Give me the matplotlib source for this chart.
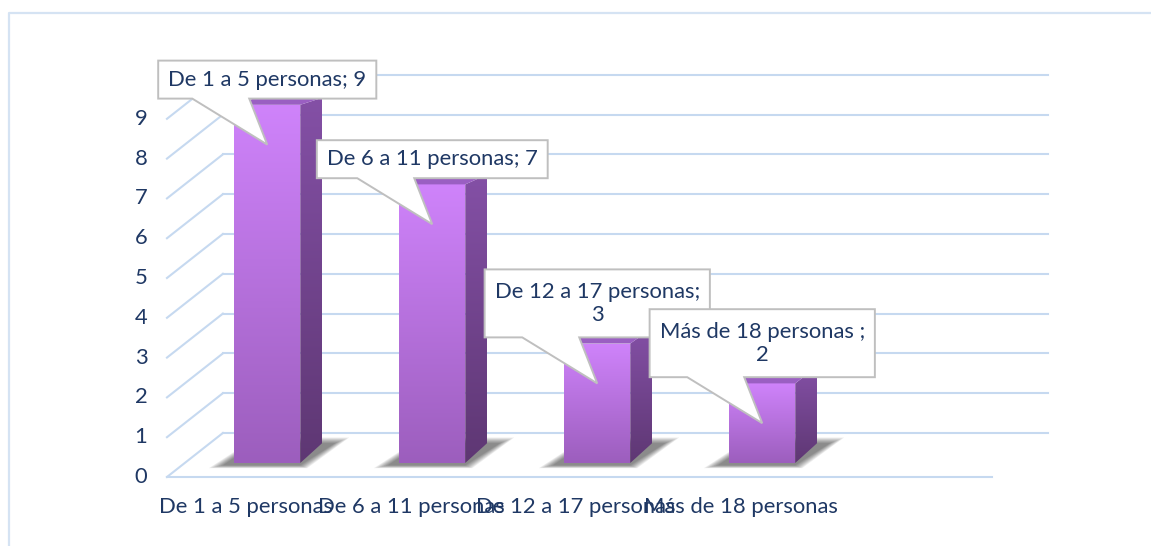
import numpy as np
import matplotlib
matplotlib.use("Agg")
import matplotlib.pyplot as plt
from matplotlib.patches import Polygon
from matplotlib.lines import Line2D
from matplotlib.transforms import IdentityTransform
from matplotlib.colors import LinearSegmentedColormap

plt.rcParams['font.family'] = ['Lato', 'DejaVu Sans']

# datos
categorias = ['De 1 a 5 personas', 'De 6 a 11 personas', 'De 12 a 17 personas', 'Más de 18 personas', '']
valores = [9, 7, 3, 2]
etiquetas = ['De 1 a 5 personas; 9', 'De 6 a 11 personas; 7',
             'De 12 a 17 personas;\n3', 'Más de 18 personas ;\n2']
ticks_y = list(range(0, 10))

TXT = '#1F3864'
GRID = '#C6D9F0'
FS = 15.8

fig = plt.figure(figsize=(11.51, 5.46), dpi=100)
ax = fig.add_axes([0, 0, 1, 1])
ax.set_xlim(-1.512, 5.464)
ax.set_ylim(-1.734, 11.985)
ax.axis('off')

# marco exterior
fig.add_artist(Line2D([0.0078, 0.0078, 1.0], [0.0, 0.976, 0.976],
                      transform=fig.transFigure, color='#D5E3F3', lw=1.6))

# profundidad de la pared (en unidades de datos)
DX, DY = 0.339, 1.106
x0 = -0.5
x1 = len(categorias) - 0.5

for v in ticks_y:
    ax.plot([x0, x0 + DX], [v, v + DY], color=GRID, lw=1.5, zorder=1)
    ax.plot([x0 + DX, x1 + DX], [v + DY, v + DY], color=GRID, lw=1.5, zorder=1)
    ax.text(-0.657, v, str(v), ha='center', va='center', fontsize=FS, color=TXT)
ax.plot([x0, x1], [0, 0], color=GRID, lw=1.5, zorder=1)

for i, c in enumerate(categorias):
    ax.text(i - 0.02, -0.76, c, ha='center', va='center', fontsize=FS, color=TXT)

# barras 3D
F = 0.318            # posición en la profundidad
W = 0.4              # ancho frontal
SD = 0.133           # profundidad lateral de la barra
grad = np.linspace(0, 1, 256).reshape(-1, 1)
cm_front = LinearSegmentedColormap.from_list('f', ['#9C5EBD', '#CF83FB'])
cm_side = LinearSegmentedColormap.from_list('s', ['#5E3773', '#8450A6'])


def side_dy(y, base):
    return 0.50 - 0.036 * (y - base)


for i, v in enumerate(valores):
    cx = i + F * DX
    yb = F * DY
    yt = v + yb
    l, r = cx - W / 2, cx + W / 2
    db, dt = side_dy(yb, yb), side_dy(yt, yb)

    # sombra difusa en el suelo
    for k in range(8):
        e = 0.012 * (7 - k)
        sh = Polygon([(l - 0.07 - e, yb - 0.06 - 0.01 * (7 - k)),
                      (r + e * 0.5, yb - 0.06 - 0.01 * (7 - k)),
                      (r + SD + 0.08 + e, yb + db + 0.02 * (7 - k)),
                      (l + SD, yb + db + 0.02 * (7 - k))],
                     closed=True, facecolor='black', edgecolor='none',
                     alpha=0.07, zorder=2)
        ax.add_patch(sh)

    # cara frontal con degradado
    pf = Polygon([(l, yb), (r, yb), (r, yt), (l, yt)], closed=True,
                 facecolor='none', edgecolor='none')
    ax.add_patch(pf)
    im = ax.imshow(grad, extent=(l, r, yb, yt), origin='lower', cmap=cm_front,
                   aspect='auto', zorder=3, interpolation='bilinear')
    im.set_clip_path(pf)

    # cara lateral
    ps = Polygon([(r, yb), (r + SD, yb + db), (r + SD, yt + dt), (r, yt)],
                 closed=True, facecolor='none', edgecolor='none')
    ax.add_patch(ps)
    im2 = ax.imshow(grad, extent=(r, r + SD, yb, yt + dt), origin='lower',
                    cmap=cm_side, aspect='auto', zorder=3, interpolation='bilinear')
    im2.set_clip_path(ps)

    # cara superior
    pt = Polygon([(l, yt), (r, yt), (r + SD, yt + dt), (l + SD, yt + dt)],
                 closed=True, facecolor='#9A5FC2', edgecolor='none', zorder=3)
    ax.add_patch(pt)

# globos de texto
fig.canvas.draw()
renderer = fig.canvas.get_renderer()
for i, (v, lab) in enumerate(zip(valores, etiquetas)):
    cx = i + F * DX
    tx, ty = ax.transData.transform((cx, v - 1 + F * DY))
    t = ax.text(0, 0, lab, fontsize=FS, color=TXT, ha='center', va='center',
                transform=IdentityTransform(), zorder=6, linespacing=1.2)
    bb = t.get_window_extent(renderer)
    nl = lab.count('\n') + 1
    bw = bb.width + 20
    bh = 38 if nl == 1 else 68
    bot = ty + 46
    lft = tx - bw / 2
    rgt = tx + bw / 2
    verts = [(lft, bot), (tx - 75, bot), (tx, ty), (tx - 18, bot), (rgt, bot),
             (rgt, bot + bh), (lft, bot + bh)]
    ax.add_patch(Polygon(verts, closed=True, facecolor='white', edgecolor='#BFBFBF',
                         lw=1.4, transform=IdentityTransform(), zorder=5))
    t.set_position((tx, bot + bh / 2))

fig.savefig('out.png', dpi=100)
